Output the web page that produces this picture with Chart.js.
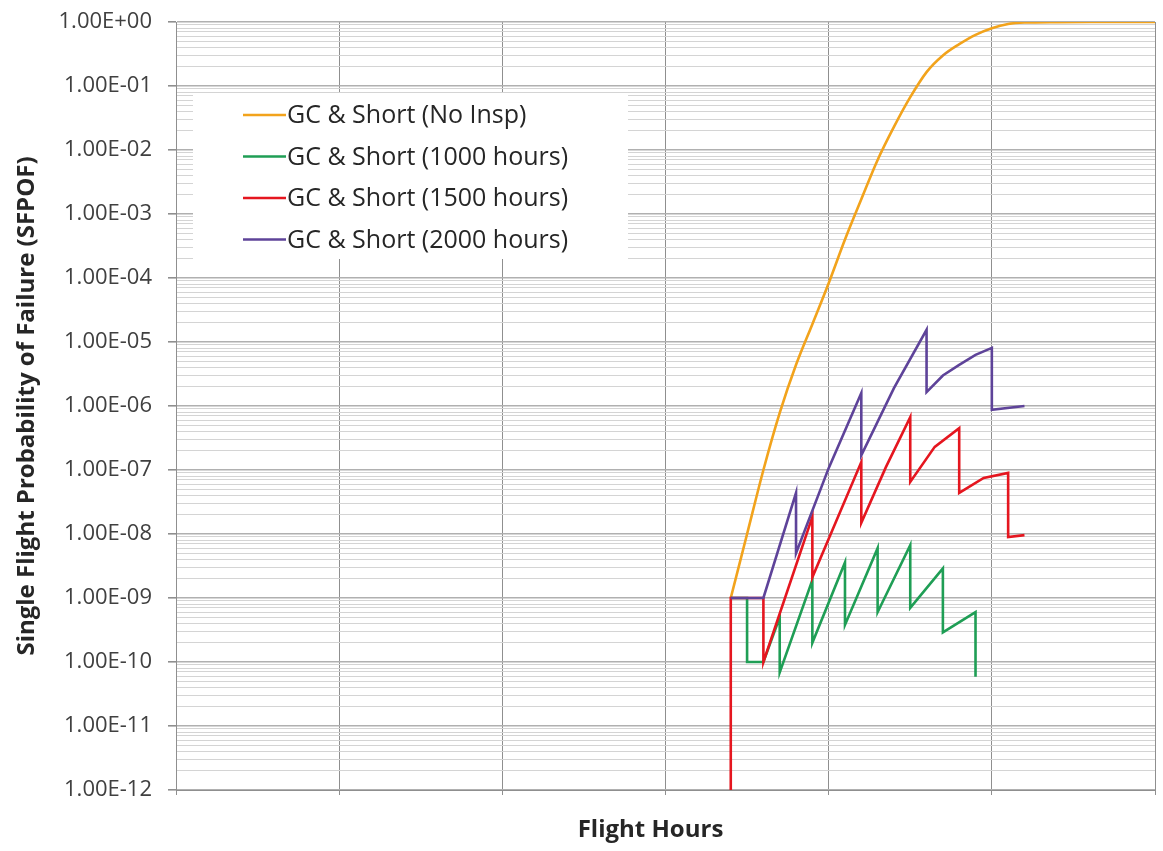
<!DOCTYPE html>
<html>
<head>
<meta charset="utf-8">
<title>SFPOF vs Flight Hours</title>
<script src="https://cdn.jsdelivr.net/npm/chart.js@4.4.0/dist/chart.umd.min.js"></script>
<style>
  html, body { margin: 0; padding: 0; background: #ffffff; }
  #wrap { width: 1163px; height: 851px; }
</style>
</head>
<body>
<div id="wrap"><canvas id="chart" width="1163" height="851"></canvas></div>
<script>
// Series names (legend order)
const seriesNames = [
  'GC & Short (No Insp)',
  'GC & Short (1000 hours)',
  'GC & Short (1500 hours)',
  'GC & Short (2000 hours)'
];

// No inspection
const noInspHours = [17000, 17500, 18000, 18500, 19000, 19500, 20000, 20500, 21000, 21500, 22000, 22500, 23000, 23500, 24000, 24500, 25000, 25500, 26000, 27000, 28000, 29000, 30000];
const noInspPof   = [1.0e-9, 1.0e-8, 1.0e-7, 7.8e-7, 4.4e-6, 1.9e-5, 8.3e-5, 4.0e-4, 1.7e-3, 7.0e-3, 2.3e-2, 6.7e-2, 0.165, 0.30, 0.45, 0.63, 0.80, 0.93, 0.98, 0.995, 1.0, 1.0, 1.0];

// Inspection every 1000 hours
const insp1000Hours = [17000, 17500, 17500, 18000, 18500, 18500, 19500, 19500, 20500, 20500, 21500, 21500, 22500, 22500, 23500, 23500, 24500, 24500];
const insp1000Pof   = [1.0e-9, 1.0e-9, 1.0e-10, 1.0e-10, 5.0e-10, 6.9e-11, 1.9e-9, 2.0e-10, 3.6e-9, 3.8e-10, 6.0e-9, 6.0e-10, 6.7e-9, 7.0e-10, 2.9e-9, 2.9e-10, 6.0e-10, 5.9e-11];

// Inspection every 1500 hours
const insp1500Hours = [17000, 17000, 18000, 18000, 19500, 19500, 21000, 21000, 21750, 22500, 22500, 23250, 24000, 24000, 24750, 25500, 25500, 26000];
const insp1500Pof   = [1.0e-12, 1.0e-9, 1.0e-9, 1.0e-10, 1.85e-8, 2.1e-9, 1.33e-7, 1.5e-8, 1.1e-7, 6.7e-7, 6.5e-8, 2.3e-7, 4.5e-7, 4.4e-8, 7.5e-8, 9.0e-8, 9.0e-9, 9.6e-9];

// Inspection every 2000 hours
const insp2000Hours = [17000, 18000, 19000, 19000, 20000, 21000, 21000, 22000, 23000, 23000, 23500, 24000, 24500, 25000, 25000, 26000];
const insp2000Pof   = [1.0e-9, 1.0e-9, 4.4e-8, 5.0e-9, 1.07e-7, 1.6e-6, 1.7e-7, 1.9e-6, 1.55e-5, 1.65e-6, 3.0e-6, 4.4e-6, 6.3e-6, 8.1e-6, 8.7e-7, 1.0e-6];

// Axis ticks and labels
const yDecades = [1, 1e-1, 1e-2, 1e-3, 1e-4, 1e-5, 1e-6, 1e-7, 1e-8, 1e-9, 1e-10, 1e-11, 1e-12];
const yTickLabels = ['1.00E+00', '1.00E-01', '1.00E-02', '1.00E-03', '1.00E-04', '1.00E-05', '1.00E-06', '1.00E-07', '1.00E-08', '1.00E-09', '1.00E-10', '1.00E-11', '1.00E-12'];
const xMin = 0, xMax = 30000, xStep = 5000;
const xTitle = 'Flight Hours';

const seriesColors = ['#F2A31C', '#1F9E55', '#E5161F', '#5E4399'];

function zip(xs, ys) { return xs.map((x, i) => ({ x: x, y: ys[i] })); }

// Index into yTickLabels for a decade value, -1 for a minor value
function decadeIndex(v) {
  const e = Math.round(Math.log10(v));
  return Math.abs(v / Math.pow(10, e) - 1) < 1e-6 ? -e : -1;
}

// Major (decade) plus minor (2..9) gridline values
const yGridValues = [];
for (let e = -12; e <= 0; e++) {
  for (let m = 1; m <= 9; m++) {
    const v = m * Math.pow(10, e);
    if (v > 1.0000001) break;
    yGridValues.push(v);
  }
}

// Legend box drawn inside the plot area, upper left
const legendPlugin = {
  id: 'insideLegend',
  afterDraw(chart) {
    const ctx = chart.ctx;
    const a = chart.chartArea;
    const left = a.left + 17, top = a.top + 71, w = 435, h = 166;
    ctx.save();
    ctx.fillStyle = '#ffffff';
    ctx.fillRect(left, top, w, h);
    ctx.font = '25px "Open Sans", sans-serif';
    ctx.textBaseline = 'middle';
    ctx.textAlign = 'left';
    chart.data.datasets.forEach((ds, i) => {
      const y = top + 22 + i * 41.5;
      ctx.strokeStyle = ds.borderColor;
      ctx.lineWidth = 2.5;
      ctx.beginPath();
      ctx.moveTo(left + 50, y);
      ctx.lineTo(left + 93, y);
      ctx.stroke();
      ctx.fillStyle = '#262626';
      ctx.fillText(ds.label, left + 94, y + 1);
    });
    ctx.restore();
  }
};

// X-axis title, set slightly left of the plot centre
const xTitlePlugin = {
  id: 'xAxisTitle',
  afterDraw(chart) {
    const ctx = chart.ctx;
    const a = chart.chartArea;
    ctx.save();
    ctx.font = 'bold 24px "Open Sans", sans-serif';
    ctx.fillStyle = '#262626';
    ctx.textAlign = 'center';
    ctx.textBaseline = 'middle';
    ctx.fillText(xTitle, (a.left + a.right) / 2 - 15, a.bottom + 40);
    ctx.restore();
  }
};

const seriesHours = [noInspHours, insp1000Hours, insp1500Hours, insp2000Hours];
const seriesPof = [noInspPof, insp1000Pof, insp1500Pof, insp2000Pof];

new Chart(document.getElementById('chart'), {
  type: 'line',
  data: {
    datasets: seriesNames.map((name, i) => ({
      label: name,
      data: zip(seriesHours[i], seriesPof[i]),
      borderColor: seriesColors[i],
      backgroundColor: seriesColors[i],
      borderWidth: 2.6,
      pointRadius: 0,
      fill: false,
      tension: i === 0 ? 0.4 : 0,
      cubicInterpolationMode: i === 0 ? 'monotone' : 'default',
      order: 4 - i
    }))
  },
  options: {
    responsive: false,
    animation: false,
    layout: { padding: { left: 0, right: 8, top: 22, bottom: 0 } },
    plugins: {
      legend: { display: false },
      tooltip: { enabled: false }
    },
    scales: {
      x: {
        type: 'linear',
        min: xMin,
        max: xMax,
        ticks: { stepSize: xStep, display: false },
        grid: { color: '#8f8f8f', lineWidth: 1, tickLength: 5, drawTicks: true },
        border: { display: true, color: '#8f8f8f', width: 1 },
        title: { display: false },
        afterFit(scale) {
          scale.height = 61;
          scale.paddingLeft = 0; scale.paddingRight = 0;
        }
      },
      y: {
        type: 'logarithmic',
        min: 1e-12,
        max: 1,
        afterBuildTicks(scale) {
          scale.ticks = yGridValues.map(v => ({ value: v, major: decadeIndex(v) >= 0 }));
        },
        ticks: {
          autoSkip: false,
          padding: 16,
          color: '#404040',
          font: { family: '"Open Sans", sans-serif', size: 22 },
          callback(value) {
            const k = decadeIndex(value);
            return k >= 0 ? yTickLabels[k] : '';
          }
        },
        grid: {
          color: ctx => (ctx.tick && decadeIndex(ctx.tick.value) >= 0) ? '#b0b0b0' : '#d4d4d4',
          lineWidth: ctx => (ctx.tick && decadeIndex(ctx.tick.value) >= 0) ? 1.6 : 1,
          tickColor: ctx => (ctx.tick && decadeIndex(ctx.tick.value) >= 0) ? '#8f8f8f' : 'rgba(0,0,0,0)',
          tickLength: 8,
          drawTicks: true
        },
        border: { display: true, color: '#8f8f8f', width: 1 },
        title: {
          display: true,
          text: 'Single Flight Probability of Failure (SFPOF)',
          color: '#262626',
          font: { family: '"Open Sans", sans-serif', size: 24, weight: 'bold' },
          padding: { top: 13, bottom: 0 }
        },
        afterFit(scale) {
          scale.width = 176;
          scale.paddingTop = 0; scale.paddingBottom = 0;
        }
      }
    }
  },
  plugins: [legendPlugin, xTitlePlugin]
});
</script>
</body>
</html>
